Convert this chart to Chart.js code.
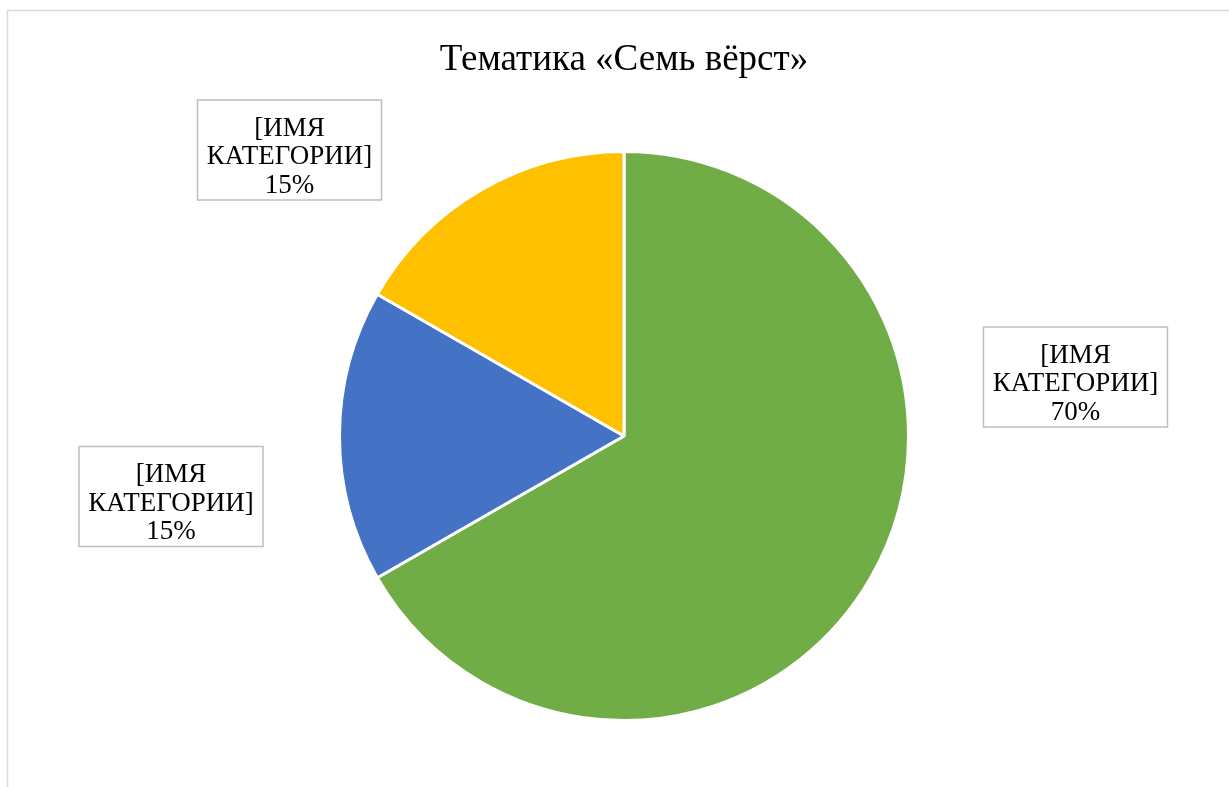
<!DOCTYPE html>
<html>
<head>
<meta charset="utf-8">
<script src="https://cdn.jsdelivr.net/npm/chart.js@4.4.1/dist/chart.umd.min.js"></script>
<style>
  html, body { margin: 0; padding: 0; background: #ffffff; }
  #wrap { width: 1229px; height: 787px; position: relative; }
</style>
</head>
<body>
<div id="wrap"><canvas id="c" width="1229" height="787"></canvas></div>
<script>
// ---- data ----
const chartTitle = 'Тематика «Семь вёрст»';
const categories = ['[ИМЯ КАТЕГОРИИ]', '[ИМЯ КАТЕГОРИИ]', '[ИМЯ КАТЕГОРИИ]'];
const shareValues = [66.7, 16.6, 16.7];
const percentLabels = ['70%', '15%', '15%'];
const sliceColors = ['#70AD47', '#4472C4', '#FFC000'];

// ---- label placement (data-label boxes, in canvas px) ----
const labelBoxes = [
  { cx: 1075.5, cy: 377 },
  { cx: 171, cy: 496.5 },
  { cx: 289.5, cy: 150 }
];

const SERIF = '"Liberation Serif", "Times New Roman", "DejaVu Serif", serif';

const decorPlugin = {
  id: 'decor',
  beforeDraw(chart) {
    const ctx = chart.ctx;
    ctx.save();
    ctx.fillStyle = '#ffffff';
    ctx.fillRect(0, 0, chart.width, chart.height);
    ctx.strokeStyle = '#d9d9d9';
    ctx.lineWidth = 1.5;
    ctx.beginPath();
    ctx.moveTo(7.5, chart.height);
    ctx.lineTo(7.5, 10.5);
    ctx.lineTo(chart.width, 10.5);
    ctx.stroke();
    // title
    ctx.fillStyle = '#000000';
    ctx.font = '37px ' + SERIF;
    ctx.textAlign = 'center';
    ctx.textBaseline = 'alphabetic';
    ctx.fillText(chartTitle, 624, 70);
    ctx.restore();
  },
  afterDatasetsDraw(chart) {
    const ctx = chart.ctx;
    ctx.save();
    const w = 184, h = 100;
    labelBoxes.forEach((b, i) => {
      const x = b.cx - w / 2, y = b.cy - h / 2;
      ctx.fillStyle = '#ffffff';
      ctx.fillRect(x, y, w, h);
      ctx.strokeStyle = '#bfbfbf';
      ctx.lineWidth = 1.5;
      ctx.strokeRect(x, y, w, h);
      const parts = categories[i].split(' ');
      const lines = [parts[0], parts.slice(1).join(' '), percentLabels[i]];
      ctx.fillStyle = '#000000';
      ctx.font = '27px ' + SERIF;
      ctx.textAlign = 'center';
      ctx.textBaseline = 'alphabetic';
      const step = 28.5;
      lines.forEach((t, k) => {
        ctx.fillText(t, b.cx, b.cy + 14 + (k - 1) * step);
      });
    });
    ctx.restore();
  }
};

new Chart(document.getElementById('c'), {
  type: 'pie',
  data: {
    labels: categories,
    datasets: [{
      data: shareValues,
      backgroundColor: sliceColors,
      borderColor: '#ffffff',
      borderWidth: 3,
      hoverOffset: 0
    }]
  },
  options: {
    responsive: false,
    animation: false,
    events: [],
    layout: { padding: { top: 150, bottom: 65, left: 338, right: 319 } },
    plugins: {
      legend: { display: false },
      title: { display: false },
      tooltip: { enabled: false }
    }
  },
  plugins: [decorPlugin]
});
</script>
</body>
</html>
